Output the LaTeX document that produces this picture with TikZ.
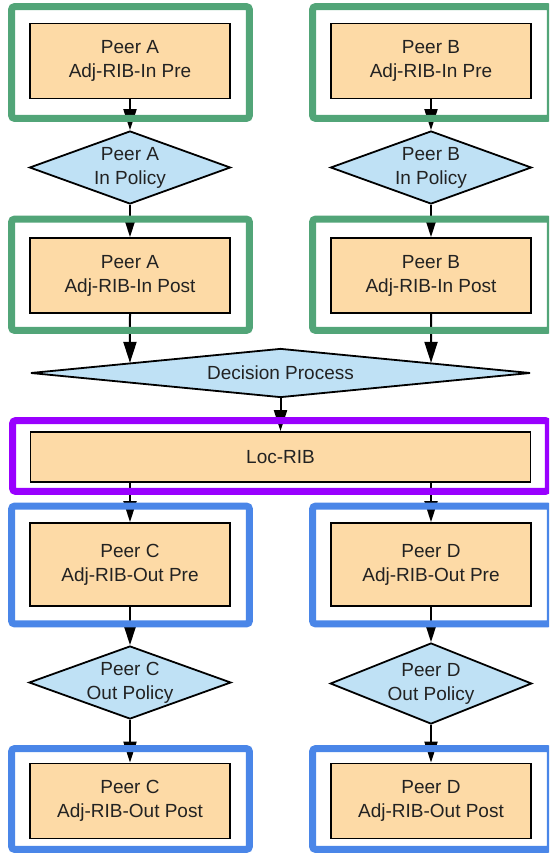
\documentclass[tikz,border=0pt]{standalone}
\usepackage{fontspec}
\setmainfont{Liberation Sans}
\usetikzlibrary{shapes.geometric,arrows.meta,calc}
\definecolor{boxfill}{HTML}{FDDAA6}
\definecolor{decfill}{HTML}{BFE1F5}
\definecolor{gfr}{HTML}{52A578}
\definecolor{bfr}{HTML}{4A86E8}
\definecolor{pfr}{HTML}{9900FF}
\definecolor{txt}{HTML}{222222}
\begin{document}
\begin{tikzpicture}[x=1pt,y=-1pt,
  ribbox/.style={rectangle, draw=black, line width=1.8pt, fill=boxfill,
    minimum width=200pt, minimum height=75pt, align=center, text=txt,
    font=\fontsize{19}{24}\selectfont, inner sep=0pt},
  policy/.style={diamond, draw=black, line width=1.8pt, fill=decfill,
    minimum width=201pt, minimum height=73pt, shape aspect=2.8, align=center,
    text=txt, font=\fontsize{19}{24}\selectfont, inner sep=0pt},
  conn/.style={line width=2pt, -{Triangle[length=21pt,width=13pt]}},
  gframe/.style={draw=gfr, line width=7pt, rounded corners=3pt},
  bframe/.style={draw=bfr, line width=7pt, rounded corners=3pt},
  pframe/.style={draw=pfr, line width=7pt, rounded corners=3pt}]
\useasboundingbox (0,0) rectangle (549,853);
\clip (0,0) rectangle (549,853);

% nodes
\node[ribbox] (preA) at (130,61) {Peer A\\Adj-RIB-In Pre};
\node[ribbox] (preB) at (431,61) {Peer B\\Adj-RIB-In Pre};
\node[policy] (polA) at (130,167.5) {Peer A\\In Policy};
\node[policy] (polB) at (431,167.5) {Peer B\\In Policy};
\node[ribbox] (postA) at (130,275.5) {Peer A\\Adj-RIB-In Post};
\node[ribbox] (postB) at (431,275.5) {Peer B\\Adj-RIB-In Post};
\node[policy, minimum width=500pt, minimum height=49pt, shape aspect=10] (dec) at (280.5,373) {Decision Process};
\node[ribbox, minimum width=500pt, minimum height=50pt] (loc) at (280.5,457) {Loc-RIB};
\node[ribbox, minimum height=83pt] (preC) at (130,564.5) {Peer C\\Adj-RIB-Out Pre};
\node[ribbox, minimum height=83pt] (preD) at (431,564.5) {Peer D\\Adj-RIB-Out Pre};
\node[policy] (polC) at (130,682.5) {Peer C\\Out Policy};
\node[policy, minimum height=81pt] (polD) at (431,683.5) {Peer D\\Out Policy};
\node[ribbox] (postC) at (130,801) {Peer C\\Adj-RIB-Out Post};
\node[ribbox] (postD) at (431,801) {Peer D\\Adj-RIB-Out Post};

% connectors
\coordinate (decA) at ($(dec.west)!0.4!(dec.north)$);
\coordinate (decB) at ($(dec.east)!0.4!(dec.north)$);
\draw[conn] (preA) -- (polA);
\draw[conn] (preB) -- (polB);
\draw[conn] (polA) -- (postA);
\draw[conn] (polB) -- (postB);
\draw[conn] (postA.south) -- (decA);
\draw[conn] (postB.south) -- (decB);
\draw[conn] (dec) -- (loc);
\draw[conn] (loc.south -| preC) -- (preC);
\draw[conn] (loc.south -| preD) -- (preD);
\draw[conn] (preC) -- (polC);
\draw[conn] (preD) -- (polD);
\draw[conn] (polC) -- (postC);
\draw[conn] (polD) -- (postD);

% frames
\draw[gframe] ($(preA.north west)+(-17.5,-16)$) rectangle ($(preA.south east)+(18.5,19)$);
\draw[gframe] ($(preB.north west)+(-17.5,-16)$) rectangle ($(preB.south east)+(18.5,19)$);
\draw[gframe] ($(postA.north west)+(-17.5,-18)$) rectangle ($(postA.south east)+(18.5,16.5)$);
\draw[gframe] ($(postB.north west)+(-17.5,-18)$) rectangle ($(postB.south east)+(18.5,16.5)$);
\draw[pframe] ($(loc.north west)+(-17,-10.5)$) rectangle ($(loc.south east)+(17,8.5)$);
\draw[bframe] ($(preC.north west)+(-17.5,-16)$) rectangle ($(preC.south east)+(18.5,17)$);
\draw[bframe] ($(preD.north west)+(-17.5,-16)$) rectangle ($(preD.south east)+(18.5,17)$);
\draw[bframe] ($(postC.north west)+(-17.5,-14)$) rectangle ($(postC.south east)+(18.5,10)$);
\draw[bframe] ($(postD.north west)+(-17.5,-14)$) rectangle ($(postD.south east)+(18.5,10)$);
\end{tikzpicture}
\end{document}
